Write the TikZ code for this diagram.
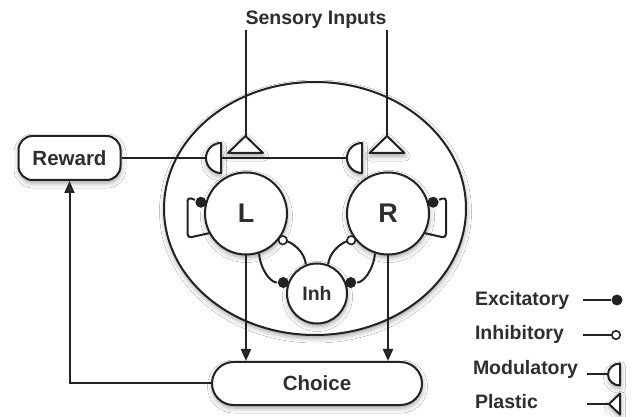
\documentclass[tikz,border=0pt]{standalone}
\usepackage{fontspec}
\setmainfont{Liberation Sans}
\usetikzlibrary{shapes.geometric, arrows.meta, calc, shadows.blur}
\definecolor{ink}{HTML}{222222}
\definecolor{txt}{HTML}{2E2E2E}

\begin{document}
\begin{tikzpicture}[x=1pt, y=-1pt, line width=2pt, color=ink,
  shadowed/.style={blur shadow={shadow xshift=0.5pt, shadow yshift=-3pt,
      shadow blur radius=5pt, shadow opacity=38}},
  label/.style={font=\fontsize{19.5}{22}\selectfont\bfseries, text=txt, inner sep=0pt},
  neuron/.style={circle, draw, fill=white, inner sep=0pt, shadowed,
      font=\fontsize{27}{30}\selectfont\bfseries, text=txt},
  box/.style={draw, fill=white, inner sep=0pt, shadowed,
      font=\fontsize{20.5}{24}\selectfont\bfseries, text=txt},
  excknob/.style={circle, fill=ink, draw=none, minimum size=11pt, inner sep=0pt},
  inhknob/.style={circle, draw, fill=white, line width=1.6pt, minimum size=8.5pt, inner sep=0pt},
  synshape/.style={draw, fill=white, line join=round, shadowed},
  arrowwire/.style={-{Triangle[length=12pt, width=10pt]}}]

\useasboundingbox (0,0) rectangle (633,417);
\fill[white] (0,0) rectangle (633,417);

% network enclosure
\node[ellipse, draw, fill=white, minimum width=302pt, minimum height=253pt,
      inner sep=0pt, shadowed] (net) at (315,208.5) {};

% output and reward boxes
\node[box, minimum width=102pt, minimum height=44pt, rounded corners=14pt]
      (reward) at (69.5,158) {Reward};
\node[box, minimum width=210pt, minimum height=43pt, rounded corners=21.5pt]
      (choice) at (317,383.5) {Choice};

% neurons
\node[neuron, minimum size=82pt] (L) at (246,213.5) {L};
\node[neuron, minimum size=82pt] (R) at (388,213.5) {R};
\node[neuron, minimum size=60pt, font=\fontsize{19.5}{22}\selectfont\bfseries] (Inh) at (317,293.5) {Inh};

% sensory inputs
\node[label] (sens) at (316,20) {Sensory Inputs};
\coordinate (inL) at (245.5,30);
\coordinate (inR) at (387,30);
\coordinate (tL) at (245.5,136);
\coordinate (tR) at (387,136);
\draw (inL) -- (tL);
\draw (inR) -- (tR);
\path[synshape] (228,153) -- (tL) -- (263,153) -- cycle;
\path[synshape] (369.5,153) -- (tR) -- (404.5,153) -- cycle;

% reward signal onto modulatory synapses
\coordinate (mR) at (347,158);
\draw (reward.east) -- (mR);
\path[synshape] (221,143) .. controls (212.7,143) and (206,149.7) .. (206,158)
      .. controls (206,166.3) and (212.7,173) .. (221,173) -- cycle;
\path[synshape] (362,143) .. controls (353.7,143) and (347,149.7) .. (347,158)
      .. controls (347,166.3) and (353.7,173) .. (362,173) -- cycle;

% synaptic terminals
\node[excknob] (dL) at ($(L.center)!46.5pt!(L.166)$) {};
\node[excknob] (dR) at ($(R.center)!46.5pt!(R.14)$) {};
\node[excknob] (diL) at ($(Inh.center)!35.5pt!(Inh.162)$) {};
\node[excknob] (diR) at ($(Inh.center)!35.5pt!(Inh.18)$) {};

% self-excitation loops
\draw[rounded corners=4pt] (L.208) -- (187.5,238) -- (187.5,197) -- (dL);
\draw[rounded corners=4pt] (R.332) -- (446,238) -- (446,197) -- (dR);

% excitation onto the inhibitory pool
\draw (L.288) .. controls +(2,18) and +(-12,0) .. (diL);
\draw (R.252) .. controls +(-2,18) and +(12,0) .. (diR);

% inhibition back onto L and R
\coordinate (oLc) at ($(L.center)!45.5pt!(L.324)$);
\coordinate (oRc) at ($(R.center)!45.5pt!(R.216)$);
\draw (Inh.111) .. controls +(-1,-12) and +(10,1) .. (oLc);
\draw (Inh.69) .. controls +(1,-12) and +(-10,1) .. (oRc);
\node[inhknob] (oL) at (oLc) {};
\node[inhknob] (oR) at (oRc) {};

% decision outputs
\draw[arrowwire] (L.south) -- (L.south |- choice.north);
\draw[arrowwire] (R.south) -- (R.south |- choice.north);
\draw[arrowwire] (choice.west) -| (reward.south);

% legend
\node[label, anchor=base west] (lgE) at (474,305.5) {Excitatory};
\node[label, anchor=base west] (lgI) at (474,340) {Inhibitory};
\node[label, anchor=base west] (lgM) at (472,374.5) {Modulatory};
\node[label, anchor=base west] (lgP) at (474,409) {Plastic};

\coordinate (eS) at (583,300);
\node[excknob] (eD) at (617,300) {};
\draw (eS) -- (eD);

\coordinate (iS) at (583,335);
\node[inhknob] (iD) at (616,335) {};
\draw (iS) -- (iD);

\coordinate (mS) at (587,374.5);
\coordinate (mT) at (608,374.5);
\draw (mS) -- (mT);
\path[synshape] (620,363.5) .. controls (613.4,363.5) and (608,368.4) .. (mT)
      .. controls (608,380.6) and (613.4,385.5) .. (620,385.5) -- cycle;

\coordinate (pS) at (587,404);
\coordinate (pT) at (609,404);
\draw (pS) -- (pT);
\path[synshape] (620,393.5) -- (pT) -- (620,414.5) -- cycle;
\end{tikzpicture}
\end{document}
